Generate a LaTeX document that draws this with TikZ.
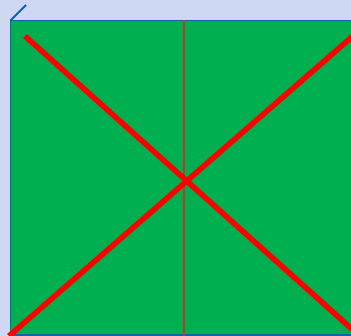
\documentclass[tikz,border=0pt]{standalone}
\usetikzlibrary{calc}
\definecolor{bgblue}{RGB}{206,216,242}
\definecolor{facegreen}{RGB}{0,176,80}
\definecolor{edgeblue}{RGB}{18,98,168}
\definecolor{midred}{RGB}{192,56,40}
\tikzset{>=latex}
\tikzset{edge/.style={draw=edgeblue,line width=1.8pt},
  diag/.style={draw=red,line width=5.5pt},
  midline/.style={draw=midred,line width=2pt}}

\begin{document}
\begin{tikzpicture}[x=1pt,y=-1pt]
  % Corners
  \coordinate (c1) at (0,0);
  \coordinate (c2) at (351,336);
  \coordinate (f1) at (10.5,20.5);
  \coordinate (f2) at (352,20.5);
  \coordinate (f3) at (352,335);
  \coordinate (f4) at (10.5,335);
  \coordinate (e1) at (26,5);

  % Diagonal ends
  \coordinate (d1) at (25,36);
  \coordinate (d2) at (353,330);
  \coordinate (d3) at (9,336);
  \coordinate (d4) at (353,36);
  \coordinate (m1) at (183.5,20.5);
  \coordinate (m2) at (183.5,336);

  \useasboundingbox (c1) rectangle (c2);
  \fill[bgblue] (c1) rectangle (c2);

  % Face
  \fill[facegreen] (f1) rectangle (f3);
  \draw[edge] (f2) -- (f1) -- (f4) -- (f3);
  \draw[edge] (f1) -- (e1);

  % Lines
  \draw[midline] (m1) -- (m2);
  \draw[diag] (d1) -- (d2);
  \draw[diag] (d3) -- (d4);
\end{tikzpicture}
\end{document}
